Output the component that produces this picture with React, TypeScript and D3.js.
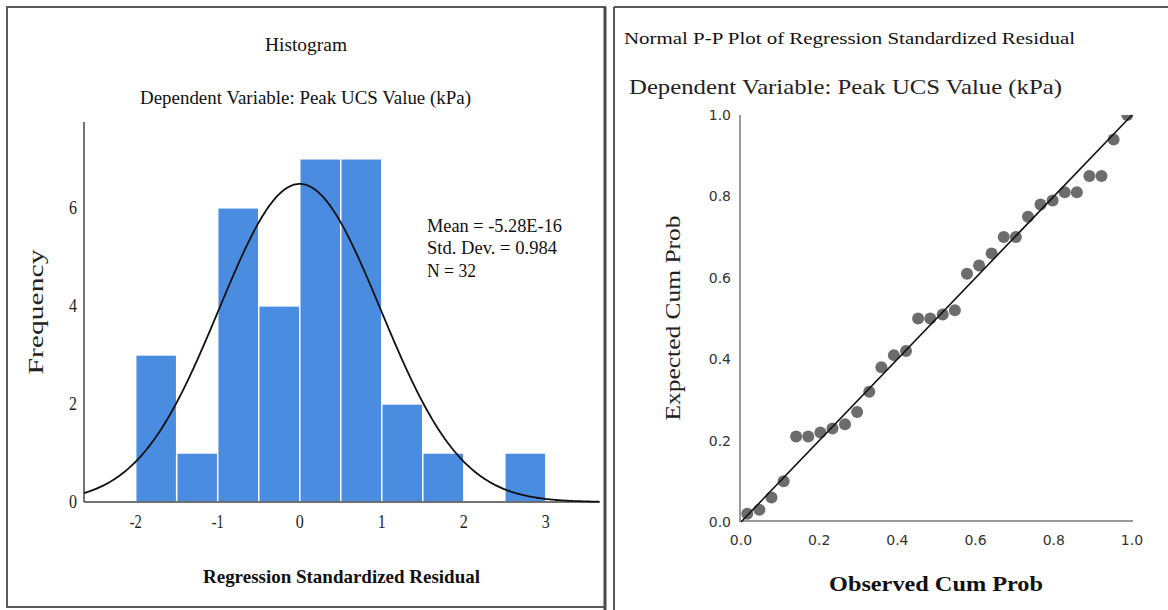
import { scaleLinear, line as d3_line, range } from "d3";

// histogram bins (lower edge, width 0.5) and counts
const binStarts = [-2, -1.5, -1, -0.5, 0, 0.5, 1, 1.5, 2, 2.5];
const binCounts = [3, 1, 6, 4, 7, 7, 2, 1, 0, 1];
const histXTicks = [-2, -1, 0, 1, 2, 3];
const histYTicks = [0, 2, 4, 6];
const statLines = ["Mean = -5.28E-16", "Std. Dev. = 0.984", "N = 32"];
const statMean = 0;
const statSd = 0.984;
const statN = 32;

// P-P plot points
const observedCum = [
  0.016, 0.047, 0.078, 0.109, 0.141, 0.172, 0.203, 0.234, 0.266, 0.297, 0.328,
  0.359, 0.391, 0.422, 0.453, 0.484, 0.516, 0.547, 0.578, 0.609, 0.641, 0.672,
  0.703, 0.734, 0.766, 0.797, 0.828, 0.859, 0.891, 0.922, 0.953, 0.988,
];
const expectedCum = [
  0.02, 0.03, 0.06, 0.1, 0.21, 0.21, 0.22, 0.23, 0.24, 0.27, 0.32, 0.38, 0.41,
  0.42, 0.5, 0.5, 0.51, 0.52, 0.61, 0.63, 0.66, 0.7, 0.7, 0.75, 0.78, 0.79,
  0.81, 0.81, 0.85, 0.85, 0.94, 1.0,
];
const ppTicks = [0, 0.2, 0.4, 0.6, 0.8, 1.0];

const SERIF = "'Liberation Serif', 'Times New Roman', serif";
const SANS = "'DejaVu Sans', sans-serif";

function Histogram() {
  const x = scaleLinear().domain([-2.63, 3.66]).range([84, 600]);
  const y = scaleLinear().domain([0, 7.75]).range([502, 122]);
  const binW = 0.5;

  // fitted normal curve from the reported stats
  const peak = (statN * binW) / (statSd * Math.sqrt(2 * Math.PI));
  const curve = d3_line<number>()
    .x((v) => x(v))
    .y((v) => y(peak * Math.exp(-0.5 * ((v - statMean) / statSd) ** 2)));
  const d = curve(range(-2.63, 3.661, 0.02));

  return (
    <g>
      <rect x={7} y={7} width={598} height={600} fill="#fff" stroke="#5a5a5a" strokeWidth={2} />
      <line x1={605} y1={7} x2={605} y2={610} stroke="#4a4a4a" strokeWidth={3} />
      <text x={306} y={45} fontFamily={SERIF} fontSize={18} textAnchor="middle" dominantBaseline="central" textLength={82} lengthAdjust="spacingAndGlyphs" fill="#111">
        Histogram
      </text>
      <text x={305.5} y={97} fontFamily={SERIF} fontSize={19} textAnchor="middle" dominantBaseline="central" textLength={331} lengthAdjust="spacingAndGlyphs" fill="#111">
        Dependent Variable: Peak UCS Value (kPa)
      </text>

      {binStarts.map((b, i) =>
        binCounts[i] > 0 ? (
          <rect
            key={i}
            x={x(b)}
            y={y(binCounts[i])}
            width={x(b + binW) - x(b)}
            height={y(0) - y(binCounts[i])}
            fill="#4a8de0"
            stroke="#fff"
            strokeWidth={1.5}
          />
        ) : null
      )}

      {/* axes */}
      <line x1={84} y1={122} x2={84} y2={502} stroke="#444" strokeWidth={1.5} />
      <line x1={84} y1={502} x2={600} y2={502} stroke="#444" strokeWidth={1.5} />

      <path d={d ?? ""} fill="none" stroke="#111" strokeWidth={1.8} />

      {histYTicks.map((t) => (
        <text key={t} x={77} y={y(t)} fontFamily={SERIF} fontSize={18} textAnchor="end" dominantBaseline="central" textLength={8} lengthAdjust="spacingAndGlyphs" fill="#222">
          {t}
        </text>
      ))}
      {histXTicks.map((t) => (
        <text key={t} x={x(t)} y={522} fontFamily={SERIF} fontSize={18} textAnchor="middle" dominantBaseline="central" textLength={t < 0 ? 12 : 8} lengthAdjust="spacingAndGlyphs" fill="#222">
          {t}
        </text>
      ))}

      <text transform="translate(35,312) rotate(-90)" fontFamily={SERIF} fontSize={22} textAnchor="middle" dominantBaseline="central" textLength={125} lengthAdjust="spacingAndGlyphs" fill="#222">
        Frequency
      </text>

      {statLines.map((s, i) => (
        <text key={s} x={427} y={225 + i * 22.5} fontFamily={SERIF} fontSize={19} dominantBaseline="central" textLength={[135, 130, 49][i]} lengthAdjust="spacingAndGlyphs" fill="#111">
          {s}
        </text>
      ))}

      <text x={341.5} y={576} fontFamily={SERIF} fontSize={19} fontWeight="bold" textAnchor="middle" dominantBaseline="central" textLength={277} lengthAdjust="spacingAndGlyphs" fill="#111">
        Regression Standardized Residual
      </text>
    </g>
  );
}

function PPPlot() {
  const x = scaleLinear().domain([0, 1]).range([741, 1132]);
  const y = scaleLinear().domain([0, 1]).range([522, 115]);
  const fmt = (v: number) => v.toFixed(1);

  return (
    <g>
      <line x1={614} y1={7} x2={614} y2={610} stroke="#5a5a5a" strokeWidth={2} />
      <line x1={614} y1={7} x2={1168} y2={7} stroke="#5a5a5a" strokeWidth={2} />

      <text x={624} y={38} fontFamily={SERIF} fontSize={16} dominantBaseline="central" textLength={451} lengthAdjust="spacingAndGlyphs" fill="#111">
        Normal P-P Plot of Regression Standardized Residual
      </text>
      <text x={629} y={87} fontFamily={SERIF} fontSize={21} dominantBaseline="central" textLength={433} lengthAdjust="spacingAndGlyphs" fill="#222">
        Dependent Variable: Peak UCS Value (kPa)
      </text>

      <defs>
        <clipPath id="pp-clip">
          <rect x={x(0)} y={y(1)} width={x(1) - x(0) + 8} height={y(0) - y(1)} />
        </clipPath>
      </defs>

      {/* axes */}
      <line x1={x(0) - 1} y1={y(1)} x2={x(0) - 1} y2={y(0)} stroke="#9a9a9a" strokeWidth={2} />
      <line x1={x(0) - 1} y1={y(0) - 1} x2={x(1) + 1} y2={y(0) - 1} stroke="#9a9a9a" strokeWidth={2} />

      {ppTicks.map((t) => (
        <text key={"y" + t} x={731} y={y(t)} fontFamily={SANS} fontSize={14} textAnchor="end" dominantBaseline="central" fill="#333">
          {fmt(t)}
        </text>
      ))}
      {ppTicks.map((t) => (
        <text key={"x" + t} x={x(t)} y={540} fontFamily={SANS} fontSize={14} textAnchor="middle" dominantBaseline="central" fill="#333">
          {fmt(t)}
        </text>
      ))}

      <g clipPath="url(#pp-clip)">
        {observedCum.map((o, i) => (
          <circle key={i} cx={x(o)} cy={y(expectedCum[i])} r={6} fill="#6c6c6c" />
        ))}
      </g>
      <line x1={x(0)} y1={y(0)} x2={x(1)} y2={y(1)} stroke="#111" strokeWidth={1.6} />

      <text transform="translate(673,318) rotate(-90)" fontFamily={SERIF} fontSize={20} textAnchor="middle" dominantBaseline="central" textLength={205} lengthAdjust="spacingAndGlyphs" fill="#222">
        Expected Cum Prob
      </text>
      <text x={936} y={584} fontFamily={SERIF} fontSize={21} fontWeight="bold" textAnchor="middle" dominantBaseline="central" textLength={214} lengthAdjust="spacingAndGlyphs" fill="#111">
        Observed Cum Prob
      </text>
    </g>
  );
}

export default function App() {
  return (
    <svg
      width={1168}
      height={610}
      viewBox="0 0 1168 610"
      style={{ position: "absolute", left: 0, top: 0, background: "#fff" }}
    >
      <rect width={1168} height={610} fill="#fff" />
      <Histogram />
      <PPPlot />
    </svg>
  );
}
